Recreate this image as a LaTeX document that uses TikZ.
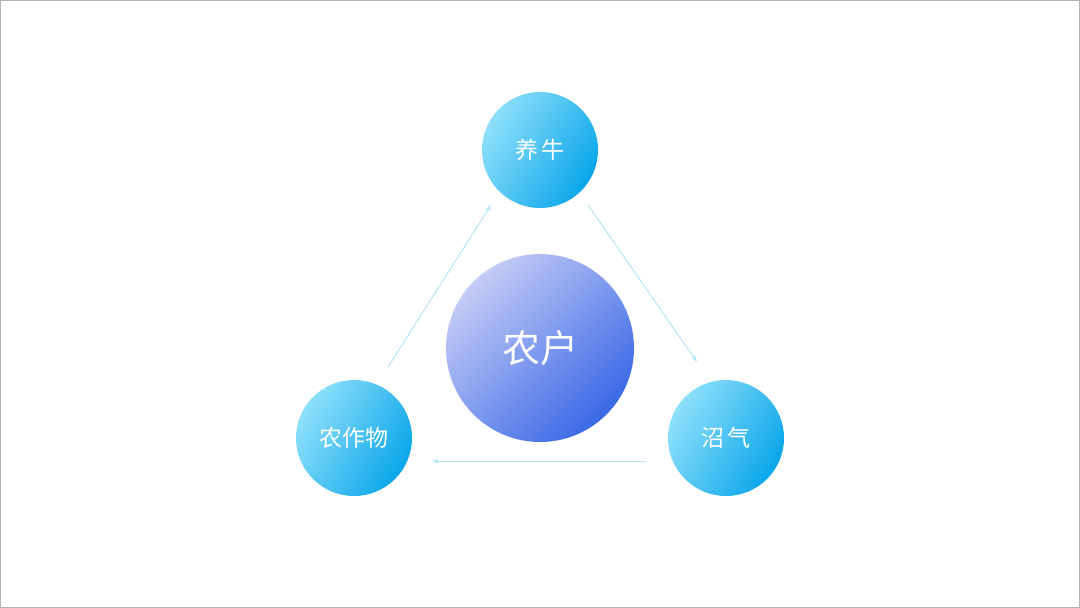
\documentclass[tikz,border=0pt]{standalone}
\usepackage{fontspec}
\newfontfamily\cjk{Noto Sans CJK SC}
\usetikzlibrary{arrows.meta}
\definecolor{cyl}{HTML}{8EE0FA}
\definecolor{cyd}{HTML}{0AA6EA}
\definecolor{bll}{HTML}{C4CCF6}
\definecolor{bld}{HTML}{3A68E6}
\definecolor{arr}{HTML}{B5E6F5}
\tikzset{
 small/.style={circle,minimum size=116pt,inner sep=0pt,left color=cyl,right color=cyd,shading angle=60,text=white,font=\cjk\fontsize{23}{26}\selectfont},
 big/.style={circle,minimum size=188pt,inner sep=0pt,left color=bll,right color=bld,shading angle=45,text=white,font=\cjk\fontsize{38}{44}\selectfont},
 conn/.style={draw=arr,line width=1pt,-{Stealth[length=7pt,width=5pt]}}
}
\begin{document}
\begin{tikzpicture}[x=1pt,y=-1pt]
\draw[draw=gray!60,line width=1pt,fill=white] (0.5,0.5) rectangle (1079.5,607.5);
\useasboundingbox (0,0) rectangle (1080,608);
\node[small] (top) at (540,150) {养\,牛};
\node[small] (left) at (354,438) {农作物};
\node[small] (right) at (726,438) {沼\,气};
\node[big] (c) at (540,348) {农户};
\coordinate (a1) at (388,367); \coordinate (a2) at (491,205);
\coordinate (b1) at (588,205); \coordinate (b2) at (697,362);
\coordinate (c1) at (646,461); \coordinate (c2) at (432,461);
\draw[conn] (a1) -- (a2);
\draw[conn] (b1) -- (b2);
\draw[conn] (c1) -- (c2);
\end{tikzpicture}
\end{document}
